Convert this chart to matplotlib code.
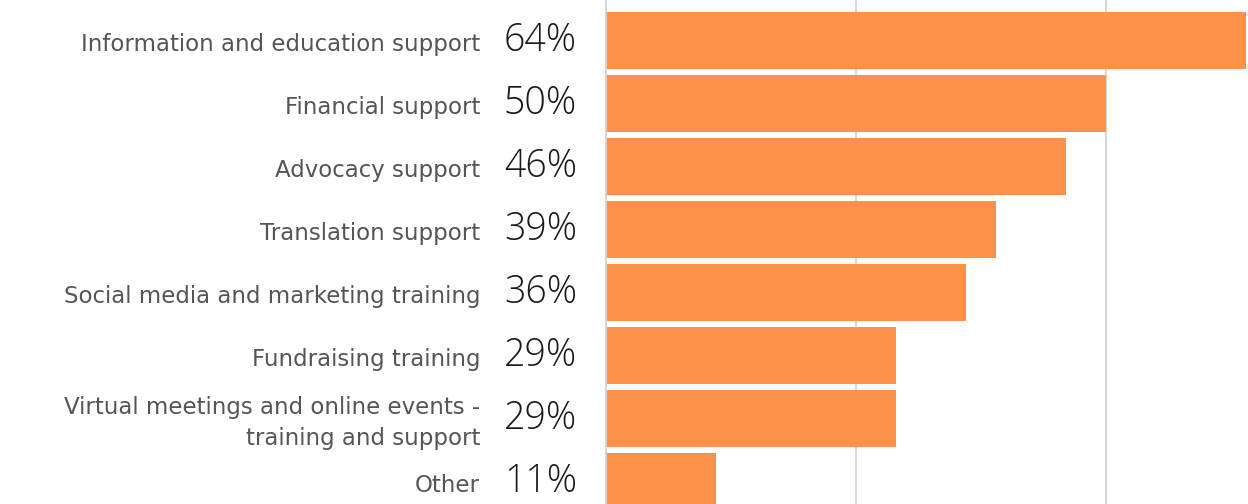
import numpy as np
import matplotlib.pyplot as plt

categories = [
    "Information and education support",
    "Financial support",
    "Advocacy support",
    "Translation support",
    "Social media and marketing training",
    "Fundraising training",
    "Virtual meetings and online events -\ntraining and support",
    "Other",
]
values = [64, 50, 46, 39, 36, 29, 29, 11]
xticks = [0, 25, 50]

bar_color = "#FF914D"
label_color = "#555555"

fig = plt.figure(figsize=(12.48, 5.04), dpi=100)
ax = fig.add_axes([606 / 1248, 0, 642 / 1248, 1])

y = np.arange(len(categories))
ax.barh(y, values, height=0.905, color=bar_color, zorder=2)

ax.set_xlim(0, 64.2)
ax.set_ylim(7.357, -0.643)
ax.set_xticks(xticks)
ax.set_yticks([])
ax.tick_params(axis="x", length=0, labelbottom=False)
ax.grid(axis="x", color="#d4d4d4", linewidth=1.3, zorder=0)

for s in ["top", "right", "bottom"]:
    ax.spines[s].set_visible(False)
ax.spines["left"].set_color("#d4d4d4")
ax.spines["left"].set_linewidth(1.3)

trans = ax.get_yaxis_transform()
for i, (cat, v) in enumerate(zip(categories, values)):
    ax.text(-0.196, i + 0.07, cat, transform=trans, ha="right", va="center",
            fontsize=16.5, color=label_color, family="DejaVu Sans",
            linespacing=1.45, clip_on=False)
    ax.text(-0.045, i, f"{v}%", transform=trans, ha="right", va="center",
            fontsize=27, color="#1a1a1a", family="Open Sans",
            fontweight="light", fontstretch="normal", clip_on=False)

fig.savefig("out.png", dpi=100)
